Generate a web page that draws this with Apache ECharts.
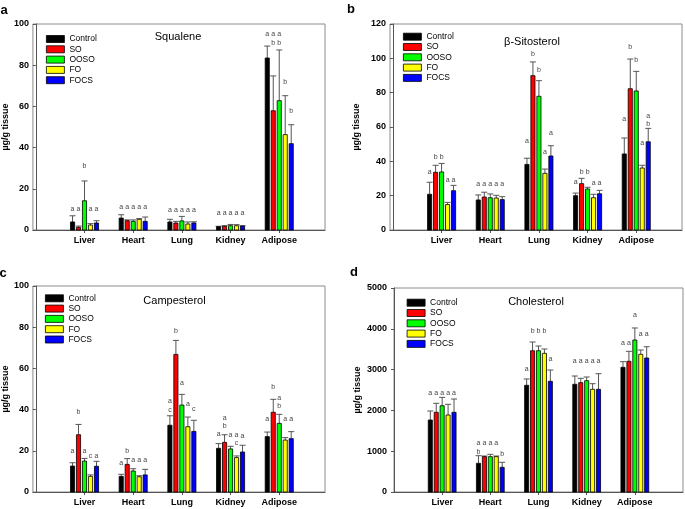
<!DOCTYPE html>
<html><head><meta charset="utf-8">
<script src="https://cdn.jsdelivr.net/npm/echarts@6/dist/echarts.min.js"></script>
<style>html,body{margin:0;padding:0;background:#fff}#c{width:685px;height:509px}</style>
</head><body><div id="c"></div>
<script>
const categories = ['Liver', 'Heart', 'Lung', 'Kidney', 'Adipose'];
const groups = ['Control', 'SO', 'OOSO', 'FO', 'FOCS'];
const groupColors = ['#000000', '#ff0000', '#00ff00', '#ffff00', '#0000ff'];

// rows = groups, columns = categories
const squaleneMean = [
  [3.9, 5.8, 3.9, 1.6, 83.5],
  [1.3, 4.5, 3.4, 1.8, 57.9],
  [14.2, 4.2, 4.4, 2.1, 62.8],
  [2.4, 5.2, 2.9, 2.1, 46.3],
  [3.4, 4.2, 3.4, 1.9, 41.9]
];
const squaleneErr = [
  [3.0, 1.6, 1.3, 0.2, 5.8],
  [0.6, 0.4, 0.8, 0.3, 16.9],
  [9.6, 0.7, 2.2, 0.6, 24.6],
  [0.7, 0.3, 1.0, 0.5, 18.9],
  [1.1, 2.1, 0.6, 0.2, 9.2]
];
const squaleneLetters = [
  ['a', 'a', 'a', 'a', 'a'],
  ['a', 'a', 'a', 'a', 'a\nb'],
  ['b', 'a', 'a', 'a', 'a\nb'],
  ['a', 'a', 'a', 'a', 'b'],
  ['a', 'a', 'a', 'a', 'b']
];
const squaleneLetterY = [
  [10.2, 11.3, 9.7, 8.1, 95],
  [10.2, 11.3, 9.7, 8.1, 95],
  [31, 11.3, 9.7, 8.1, 95],
  [10.2, 11.3, 9.7, 8.1, 71.8],
  [10.2, 11.3, 9.7, 8.1, 57.6]
];

const sitosterolMean = [
  [20.8, 17.5, 38.2, 20.0, 44.3],
  [33.6, 19.2, 89.9, 27.0, 82.3],
  [33.8, 18.8, 77.9, 23.9, 81.0],
  [14.8, 18.6, 33.0, 18.8, 36.1],
  [22.9, 17.7, 43.1, 21.1, 51.4]
];
const sitosterolErr = [
  [7.0, 2.9, 3.6, 1.5, 9.3],
  [4.1, 2.8, 8.0, 3.1, 17.3],
  [5.0, 2.2, 9.1, 1.0, 11.4],
  [1.3, 1.6, 2.5, 2.0, 1.6],
  [3.1, 1.7, 6.0, 2.0, 7.8]
];
const sitosterolLetters = [
  ['a', 'a', 'a', 'a', 'a'],
  ['b', 'a', 'b', 'b', 'b'],
  ['b', 'a', 'b', 'b', 'b'],
  ['a', 'a', 'a', 'a', 'a'],
  ['a', 'a', 'a', 'a', 'a\nb']
];
const sitosterolLetterY = [
  [33.6, 26.8, 51.7, 27.8, 64.5],
  [42.3, 26.8, 102.7, 34, 106.8],
  [42.3, 26.8, 93.2, 34, 99],
  [29.1, 26.8, 45.3, 27.2, 50.9],
  [29.1, 26.8, 56.7, 27.2, 66.6]
];

const campesterolMean = [
  [12.6, 7.6, 32.4, 21.2, 26.9],
  [27.8, 13.4, 66.8, 24.1, 38.7],
  [15.0, 10.2, 42.2, 20.9, 33.3],
  [7.6, 7.4, 31.7, 16.7, 25.2],
  [12.5, 8.3, 29.4, 19.4, 25.9]
];
const campesterolErr = [
  [1.6, 1.0, 4.6, 2.3, 2.2],
  [5.0, 2.8, 6.8, 3.7, 6.3],
  [1.3, 1.1, 5.2, 1.3, 4.4],
  [0.7, 0.5, 4.7, 0.8, 1.2],
  [2.4, 2.7, 5.4, 3.3, 3.4]
];
const campesterolLetters = [
  ['a', 'a', 'a\nc', 'a', 'a'],
  ['b', 'b', 'b', 'a\nb', 'b'],
  ['a', 'a', 'a', 'a', 'a\nb'],
  ['c', 'a', 'a', 'a\nc', 'a'],
  ['a', 'a', 'c', 'a', 'a']
];
const campesterolLetterY = [
  [20, 14.2, 44, 28.2, 35.3],
  [38.8, 19.7, 78.3, 36.1, 51.1],
  [20, 15.5, 53, 27.8, 45.8],
  [17.3, 15.5, 42.7, 27.8, 35.3],
  [17.3, 15.5, 40.1, 27.2, 35.3]
];

const cholesterolMean = [
  [1765, 703, 2615, 2640, 3056],
  [1953, 866, 3463, 2680, 3203],
  [2115, 866, 3463, 2728, 3725],
  [1887, 866, 3399, 2517, 3375],
  [1953, 605, 2713, 2517, 3284]
];
const cholesterolErr = [
  [220, 187, 155, 203, 138],
  [221, 16, 213, 106, 245],
  [205, 57, 115, 91, 295],
  [262, 16, 106, 138, 105],
  [326, 123, 277, 383, 277]
];
const cholesterolLetters = [
  ['a', 'a\nb', 'a', 'a', 'a'],
  ['a', 'a', 'b', 'a', 'a'],
  ['a', 'a', 'b', 'a', 'a'],
  ['a', 'a', 'b', 'a', 'a'],
  ['a', 'b', 'a', 'a', 'a']
];
const cholesterolLetterY = [
  [2419, 1193, 3007, 3218, 3644],
  [2419, 1193, 3954, 3218, 3644],
  [2419, 1193, 3954, 3218, 4346],
  [2419, 1193, 3954, 3218, 3873],
  [2419, 931, 3268, 3218, 3873]
];

const yMaxes = [100, 120, 100, 5000];
const yIntervals = [20, 20, 20, 1000];

const FONT = '"Liberation Sans", Arial, sans-serif';

const panels = [
  { title: 'Squalene', tag: 'a', mean: squaleneMean, err: squaleneErr, letters: squaleneLetters, letterY: squaleneLetterY,
    grid: { left: 32, top: 24, width: 293, height: 206 }, xmin: -0.06, xmax: 5.94, labMargin: 4, nameGap: 20,
    leg: [46, 34.5], tpos: [178, 37], tagPos: [4, 10] },
  { title: 'β-Sitosterol', tag: 'b', mean: sitosterolMean, err: sitosterolErr, letters: sitosterolLetters, letterY: sitosterolLetterY,
    grid: { left: 390, top: 24, width: 292, height: 206 }, xmin: -0.06, xmax: 5.94, labMargin: 4, nameGap: 29,
    leg: [403, 32.2], tpos: [532, 42], tagPos: [351, 9] },
  { title: 'Campesterol', tag: 'c', mean: campesterolMean, err: campesterolErr, letters: campesterolLetters, letterY: campesterolLetterY,
    grid: { left: 32, top: 286, width: 293, height: 206 }, xmin: -0.06, xmax: 5.94, labMargin: 4, nameGap: 21,
    leg: [45, 293.8], tpos: [174.5, 300.7], tagPos: [3, 273] },
  { title: 'Cholesterol', tag: 'd', mean: cholesterolMean, err: cholesterolErr, letters: cholesterolLetters, letterY: cholesterolLetterY,
    grid: { left: 394, top: 288, width: 289, height: 204 }, xmin: 0, xmax: 6, labMargin: 7, nameGap: 32,
    leg: [406.7, 298.2], tpos: [536, 302.3], tagPos: [354, 272] }
];

function makeRender(p, g) {
  return function (params, api) {
    const xv = api.value(0), m = api.value(1), e = api.value(2), ly = api.value(3);
    const unit = api.size([1, 0])[0];
    const base = api.coord([xv, 0]);
    const cx = base[0] + (g - 2) * unit * 0.123;
    const yTop = api.coord([xv, m])[1];
    const yErr = api.coord([xv, m + e])[1];
    const yLab = api.coord([xv, ly])[1];
    const bw = unit * 0.085;
    const txt = p.letters[g][params.dataIndex];
    return {
      type: 'group',
      children: [
        { type: 'line', shape: { x1: cx, y1: yTop, x2: cx, y2: yErr }, style: { stroke: '#555', lineWidth: 1 } },
        { type: 'line', shape: { x1: cx - 3, y1: yErr, x2: cx + 3, y2: yErr }, style: { stroke: '#555', lineWidth: 1 } },
        { type: 'rect', shape: { x: cx - bw / 2, y: yTop, width: bw, height: base[1] - yTop },
          style: { fill: groupColors[g], stroke: '#000', lineWidth: 0.8 } },
        { type: 'text', x: cx, y: yLab - 4.15,
          style: { text: txt, fill: '#444', font: '7px ' + FONT, align: 'center', verticalAlign: 'top', lineHeight: 8.3 } }
      ]
    };
  };
}

const option = {
  animation: false,
  backgroundColor: '#fff',
  grid: panels.map(p => Object.assign({ show: true, borderColor: '#8c8c8c', borderWidth: 1, containLabel: false }, p.grid)),
  xAxis: panels.map((p, i) => ({
    type: 'value', gridIndex: i, min: p.xmin, max: p.xmax,
    axisLine: { show: true, lineStyle: { color: '#555', width: 1 } },
    axisTick: { show: true, customValues: [1, 2, 3, 4, 5], length: 3, lineStyle: { color: '#555' } },
    axisLabel: { show: true, customValues: [1, 2, 3, 4, 5], margin: 6.5,
      formatter: v => categories[Math.round(v) - 1] || '',
      fontFamily: FONT, fontSize: 9, fontWeight: 'bold', color: '#000' },
    splitLine: { show: false }
  })),
  yAxis: panels.map((p, i) => ({
    type: 'value', gridIndex: i, min: 0, max: yMaxes[i], interval: yIntervals[i],
    name: 'µg/g tissue', nameLocation: 'middle', nameGap: p.nameGap,
    nameTextStyle: { fontFamily: FONT, fontSize: 9, fontWeight: 'bold', color: '#000' },
    axisLine: { show: true, lineStyle: { color: '#555', width: 1 } },
    axisTick: { show: true, length: 3, lineStyle: { color: '#555' } },
    axisLabel: { margin: p.labMargin, formatter: v => String(v), fontFamily: FONT, fontSize: 9, fontWeight: 'bold', color: '#000' },
    splitLine: { show: false }
  })),
  legend: panels.map(p => ({
    data: groups, orient: 'vertical', left: p.leg[0], top: p.leg[1], padding: 0,
    itemWidth: 18, itemHeight: 7, itemGap: 1.3, icon: 'rect', selectedMode: false,
    itemStyle: { borderColor: '#000', borderWidth: 0.8 },
    textStyle: { fontFamily: FONT, fontSize: 8.5, lineHeight: 9, color: '#000' }
  })),
  graphic: panels.flatMap(p => [
    { type: 'text', x: p.tpos[0], y: p.tpos[1], style: { text: p.title, font: '11px ' + FONT, fill: '#000', align: 'center', verticalAlign: 'middle' } },
    { type: 'text', x: p.tagPos[0], y: p.tagPos[1], style: { text: p.tag, font: 'bold 13px ' + FONT, fill: '#000', align: 'center', verticalAlign: 'middle' } }
  ]),
  series: panels.flatMap((p, i) => groups.map((name, g) => ({
    type: 'custom', name: name, xAxisIndex: i, yAxisIndex: i,
    itemStyle: { color: groupColors[g], borderColor: '#000' },
    renderItem: makeRender(p, g),
    encode: { x: 0, y: 1 },
    data: categories.map((c, k) => [k + 1, p.mean[g][k], p.err[g][k], p.letterY[g][k]])
  })))
};

const chart = echarts.init(document.getElementById('c'), null, { renderer: 'canvas' });
chart.setOption(option);
</script></body></html>
